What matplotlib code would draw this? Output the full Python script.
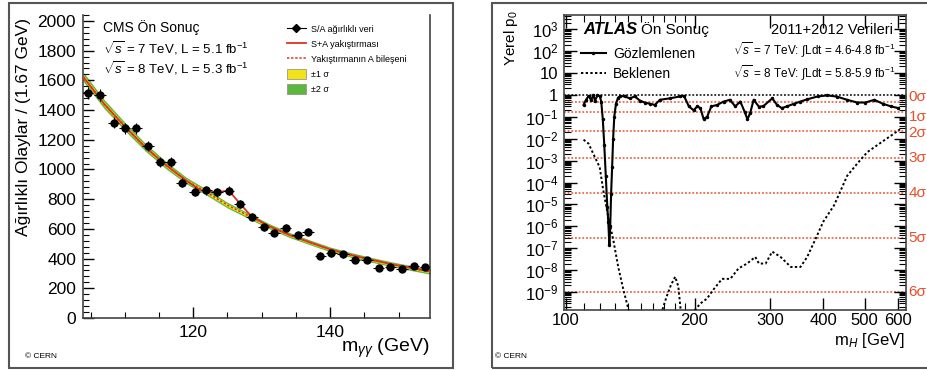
import numpy as np
import matplotlib
matplotlib.use('Agg')
import matplotlib.pyplot as plt
from matplotlib.patches import Rectangle, Patch
from matplotlib.lines import Line2D
from matplotlib.ticker import FixedLocator, MultipleLocator, NullFormatter, FixedFormatter

plt.rcParams['font.family'] = ['Liberation Sans', 'DejaVu Sans']
plt.rcParams['mathtext.fontset'] = 'custom'
plt.rcParams['mathtext.rm'] = 'Liberation Sans'
plt.rcParams['mathtext.it'] = 'Liberation Sans:italic'
plt.rcParams['mathtext.bf'] = 'Liberation Sans:bold'

# ---------------- CMS panel data ----------------
cms_mass = [104.6, 106.4, 108.4, 110.0, 111.7, 113.4, 115.2, 116.7, 118.3, 120.2,
            121.9, 123.5, 125.2, 126.8, 128.6, 130.3, 131.8, 133.5, 135.3, 136.8,
            138.6, 140.2, 141.9, 143.6, 145.4, 147.1, 148.8, 150.5, 152.2, 153.9]
cms_events = [1512, 1500, 1314, 1276, 1276, 1160, 1052, 1048, 911, 850,
              861, 846, 857, 767, 678, 610, 574, 608, 559, 581,
              419, 435, 429, 390, 390, 339, 346, 330, 350, 341]
cms_yerr = [40, 40, 38, 37, 37, 35, 33, 33, 31, 30,
            30, 30, 30, 28, 27, 26, 25, 26, 25, 25,
            22, 22, 22, 21, 21, 20, 20, 19, 20, 19]
cms_xerr = [0.83] * len(cms_mass)

bkg_mass = [104, 107, 110, 113, 116, 119, 122, 125, 128, 131, 134, 137, 140, 143, 146, 149, 152, 155]
bkg_fit = [1620, 1440, 1290, 1150, 1030, 925, 845, 760, 690, 620, 560, 510, 462, 425, 392, 362, 335, 310]
band1_half = [16, 15, 14, 13, 12, 11, 10, 10, 9, 9, 9, 8, 8, 8, 8, 8, 8, 9]
band2_half = [32, 30, 28, 26, 24, 22, 20, 19, 18, 17, 17, 16, 16, 16, 16, 16, 17, 18]

sb_mass = [104, 107, 110, 113, 116, 119, 121, 122, 123.5, 125.2, 126.8, 128.5, 131, 134, 137, 140, 143, 146, 149, 152, 155]
sb_fit = [1620, 1440, 1290, 1150, 1030, 925, 862, 850, 848, 858, 772, 685, 620, 560, 510, 462, 425, 392, 362, 335, 310]

# ---------------- ATLAS panel data ----------------
obs_mass = [110, 111.5, 113, 114.5, 116, 117, 118.5, 120, 121, 122, 123, 124, 125, 125.7,
            126.4, 127, 127.6, 128.3, 129, 129.8, 131, 132.5, 134, 137.5, 141, 145, 149,
            153, 157, 161.5, 166, 175, 185, 189, 194, 199, 203, 206.5, 210, 214, 219,
            226, 234, 242, 249, 256, 262, 266, 270, 275, 283, 290, 304, 312, 320, 329,
            341, 354, 367, 388, 409, 431, 455, 481, 502, 527, 551, 576, 600]
obs_p0 = [0.35, 0.6, 0.9, 0.6, 0.95, 0.55, 0.95, 0.9, 0.5, 0.08, 5e-3, 2e-4, 8e-6, 1.5e-6,
          1.4e-7, 1e-6, 3e-5, 5e-4, 1e-2, 0.1, 0.4, 0.75, 0.9, 0.85, 0.7, 0.85, 0.55,
          0.45, 0.4, 0.35, 0.6, 0.7, 0.85, 0.9, 0.3, 0.2, 0.3, 0.25, 0.08, 0.1, 0.3,
          0.35, 0.5, 0.6, 0.3, 0.5, 0.17, 0.077, 0.15, 0.6, 0.29, 0.31, 0.7, 0.35, 0.25, 0.3,
          0.39, 0.5, 0.63, 0.85, 0.95, 0.84, 0.6, 0.45, 0.45, 0.6, 0.4, 0.3, 0.25]

exp_mass = [110, 113, 116, 120, 122.3, 125.6, 129.1, 132.6, 136.3, 141,
            np.nan,
            167, 172, 176, 180.2, 183.3, 186,
            np.nan,
            197, 206.4, 213.9, 221.5, 232, 242.6, 253.5, 265.5, 277.5, 283, 293.4, 304,
            318, 336, 354, 367, 383, 400, 424, 440, 455, 481, 508, 548, 580, 605]
exp_p0 = [9e-3, 6e-3, 2e-3, 5e-4, 4.5e-5, 2.8e-6, 2.4e-7, 1.4e-8, 1.3e-9, 1e-10,
          np.nan,
          1e-10, 6e-10, 2e-9, 5e-9, 1.8e-9, 1e-10,
          np.nan,
          1e-10, 3e-10, 5e-10, 1.3e-9, 4e-9, 4e-9, 1.2e-8, 2e-8, 4e-8, 2e-8, 2e-8, 7e-8,
          4e-8, 1.4e-8, 1.4e-8, 4e-8, 2.4e-7, 1.6e-6, 9e-6, 4.5e-5, 2e-4, 7.5e-4, 2.5e-3, 7e-3, 1.5e-2, 2.7e-2]

sigma_labels = ['0σ', '1σ', '2σ', '3σ', '4σ', '5σ', '6σ']
sigma_p0 = [0.5, 0.1587, 0.02275, 1.35e-3, 3.17e-5, 2.87e-7, 9.87e-10]

W, H = 928, 370
fig = plt.figure(figsize=(W / 100, H / 100), dpi=100)

def fx(px):
    return px / W

def fy(py):
    return 1 - py / H

# panel frames
fig.patches.append(Rectangle((fx(9), fy(368)), fx(444), 365 / H, transform=fig.transFigure,
                             fill=False, edgecolor='#555555', lw=1.5))
fig.patches.append(Rectangle((fx(492), fy(368)), fx(440), 365 / H, transform=fig.transFigure,
                             fill=False, edgecolor='#555555', lw=1.5))

# ================= CMS panel =================
ax1 = fig.add_axes([fx(83), fy(318), fx(347), 303 / H])
ax1.set_xlim(103.9, 154.6)
ax1.set_ylim(0, 2040)

lo2 = np.array(bkg_fit) - np.array(band2_half)
hi2 = np.array(bkg_fit) + np.array(band2_half)
lo1 = np.array(bkg_fit) - np.array(band1_half)
hi1 = np.array(bkg_fit) + np.array(band1_half)
ax1.fill_between(bkg_mass, lo2, hi2, color='#5cb83c', lw=0, zorder=1)
ax1.fill_between(bkg_mass, lo1, hi1, color='#f2e21a', lw=0, zorder=2)
ax1.plot(bkg_mass, bkg_fit, color='#e03020', lw=1.1, ls=(0, (1.5, 1.2)), zorder=3)
ax1.plot(sb_mass, sb_fit, color='#e03020', lw=1.3, zorder=4)
ax1.errorbar(cms_mass, cms_events, yerr=cms_yerr, xerr=cms_xerr, fmt='o', color='black',
             ms=5, elinewidth=0.8, capsize=0, zorder=5)

ax1.xaxis.set_major_locator(FixedLocator([120, 140]))
ax1.xaxis.set_minor_locator(MultipleLocator(5))
ax1.yaxis.set_major_locator(MultipleLocator(200))
ax1.yaxis.set_minor_locator(MultipleLocator(40))
ax1.tick_params(which='both', direction='in', top=False, right=False, labelsize=12.5, pad=5)
ax1.tick_params(which='major', length=8, width=1)
ax1.tick_params(which='minor', length=4, width=0.8)
for s in ['left', 'bottom', 'right']:
    ax1.spines[s].set_color('#444444')
    ax1.spines[s].set_linewidth(1.2)
ax1.spines['top'].set_visible(False)

fig.text(fx(24), fy(18), 'Ağırlıklı Olaylar / (1.67 GeV)', rotation=90, ha='center', va='top',
         fontsize=12.5)
fig.text(fx(430), fy(348), r'm$_{\gamma\gamma}$ (GeV)', ha='right', va='center', fontsize=14)
fig.text(fx(25), fy(357), '© CERN', ha='left', va='center', fontsize=6)

ax1.text(fx(103), fy(28), 'CMS Ön Sonuç', transform=fig.transFigure, ha='left', va='center',
         fontsize=10)
ax1.text(fx(103), fy(48), r'$\sqrt{s}$ = 7 TeV, L = 5.1 fb$^{-1}$', transform=fig.transFigure,
         ha='left', va='center', fontsize=9.5)
ax1.text(fx(103), fy(68), r'$\sqrt{s}$ = 8 TeV, L = 5.3 fb$^{-1}$', transform=fig.transFigure,
         ha='left', va='center', fontsize=9.5)

handles = [
    Line2D([], [], color='black', marker='D', ms=4, lw=0.8),
    Line2D([], [], color='#e03020', lw=1.3),
    Line2D([], [], color='#e03020', lw=1.1, ls=(0, (1.5, 1.2))),
    Patch(facecolor='#f2e21a', edgecolor='#888888', lw=0.5),
    Patch(facecolor='#5cb83c', edgecolor='#888888', lw=0.5),
]
labels = ['S/A ağırlıklı veri', 'S+A yakıştırması', 'Yakıştırmanın A bileşeni', '±1 σ', '±2 σ']
ax1.legend(handles, labels, loc='upper left', bbox_to_anchor=(fx(282), fy(20)),
           bbox_transform=fig.transFigure, frameon=False, fontsize=6.5, handlelength=2.2,
           handleheight=1.3, labelspacing=0.55, borderpad=0, handletextpad=0.5)

# ================= ATLAS panel =================
ax2 = fig.add_axes([fx(564), fy(310), fx(342), 295 / H])
ax2.set_xscale('log')
ax2.set_yscale('log')
ax2.set_xlim(99, 625)
ax2.set_ylim(10 ** -9.82, 10 ** 3.65)

for p in sigma_p0:
    ax2.axhline(p, color='#e8502a', lw=1.1, ls=(0, (1.2, 1.2)), zorder=1)
ax2.axhline(1.0, color='black', lw=1.1, ls=(0, (1.2, 1.2)), zorder=1)
label_offsets = [3.6, -3.0, -1.4, 0, 0, 0, 0]
for lab, p, off in zip(sigma_labels, sigma_p0, label_offsets):
    ax2.annotate(lab, xy=(1.008, p), xycoords=ax2.get_yaxis_transform(),
                 xytext=(0, off), textcoords='offset points', color='#e8502a',
                 fontsize=11, ha='left', va='center', annotation_clip=False)

ax2.plot(obs_mass, obs_p0, color='black', lw=1.5, marker='.', ms=3, zorder=3)
ax2.plot(exp_mass, exp_p0, color='black', lw=1.4, ls=(0, (1.2, 1.2)), zorder=3)

ax2.xaxis.set_major_locator(FixedLocator([100, 200, 300, 400, 500, 600]))
ax2.xaxis.set_major_formatter(FixedFormatter(['100', '200', '300', '400', '500', '600']))
ax2.xaxis.set_minor_locator(FixedLocator([110, 120, 130, 140, 150, 160, 170, 180, 190]))
ax2.xaxis.set_minor_formatter(NullFormatter())

yt = [10.0 ** k for k in range(-9, 4)]
ylabs = []
for k in range(-9, 4):
    if k == 0:
        ylabs.append('1')
    elif k == 1:
        ylabs.append('10')
    else:
        ylabs.append(r'$10^{%d}$' % k)
ax2.yaxis.set_major_locator(FixedLocator(yt))
ax2.yaxis.set_major_formatter(FixedFormatter(ylabs))
minors = [m * 10.0 ** k for k in range(-10, 4) for m in range(2, 10)]
ax2.yaxis.set_minor_locator(FixedLocator(minors))
ax2.yaxis.set_minor_formatter(NullFormatter())
ax2.tick_params(which='both', direction='in', top=True, right=True, labelsize=12, pad=4)
ax2.tick_params(axis='x', which='major', pad=2)
ax2.tick_params(which='major', length=9, width=1)
ax2.tick_params(which='minor', length=5, width=0.8)
for s in ax2.spines.values():
    s.set_color('#444444')
    s.set_linewidth(1.2)

fig.text(fx(511), fy(10), r'Yerel p$_0$', rotation=90, ha='center', va='top', fontsize=11)
fig.text(fx(905), fy(341), r'm$_H$ [GeV]', ha='right', va='center', fontsize=12)
fig.text(fx(495), fy(357), '© CERN', ha='left', va='center', fontsize=6)

ax2.text(fx(583), fy(30), 'ATLAS', transform=fig.transFigure, ha='left', va='center',
         fontsize=12, fontweight='bold', fontstyle='italic')
ax2.text(fx(641), fy(30), 'Ön Sonuç', transform=fig.transFigure, ha='left', va='center',
         fontsize=11)
ax2.text(fx(893), fy(30), '2011+2012 Verileri', transform=fig.transFigure, ha='right',
         va='center', fontsize=10.5)
ax2.text(fx(895), fy(50), r'$\sqrt{s}$ = 7 TeV: $\int$Ldt = 4.6-4.8 fb$^{-1}$',
         transform=fig.transFigure, ha='right', va='center', fontsize=8.5)
ax2.text(fx(895), fy(73), r'$\sqrt{s}$ = 8 TeV: $\int$Ldt = 5.8-5.9 fb$^{-1}$',
         transform=fig.transFigure, ha='right', va='center', fontsize=8.5)

obs_h = Line2D([], [], color='black', lw=1.5, marker='.', ms=3)
exp_h = Line2D([], [], color='black', lw=1.4, ls=(0, (1.2, 1.2)))
ax2.legend([obs_h, exp_h], ['Gözlemlenen', 'Beklenen'], loc='upper left',
           bbox_to_anchor=(fx(574), fy(40)), bbox_transform=fig.transFigure, frameon=False,
           fontsize=10, handlelength=1.8, labelspacing=0.45, borderpad=0, handletextpad=0.5)

fig.savefig('out.png', dpi=100)
